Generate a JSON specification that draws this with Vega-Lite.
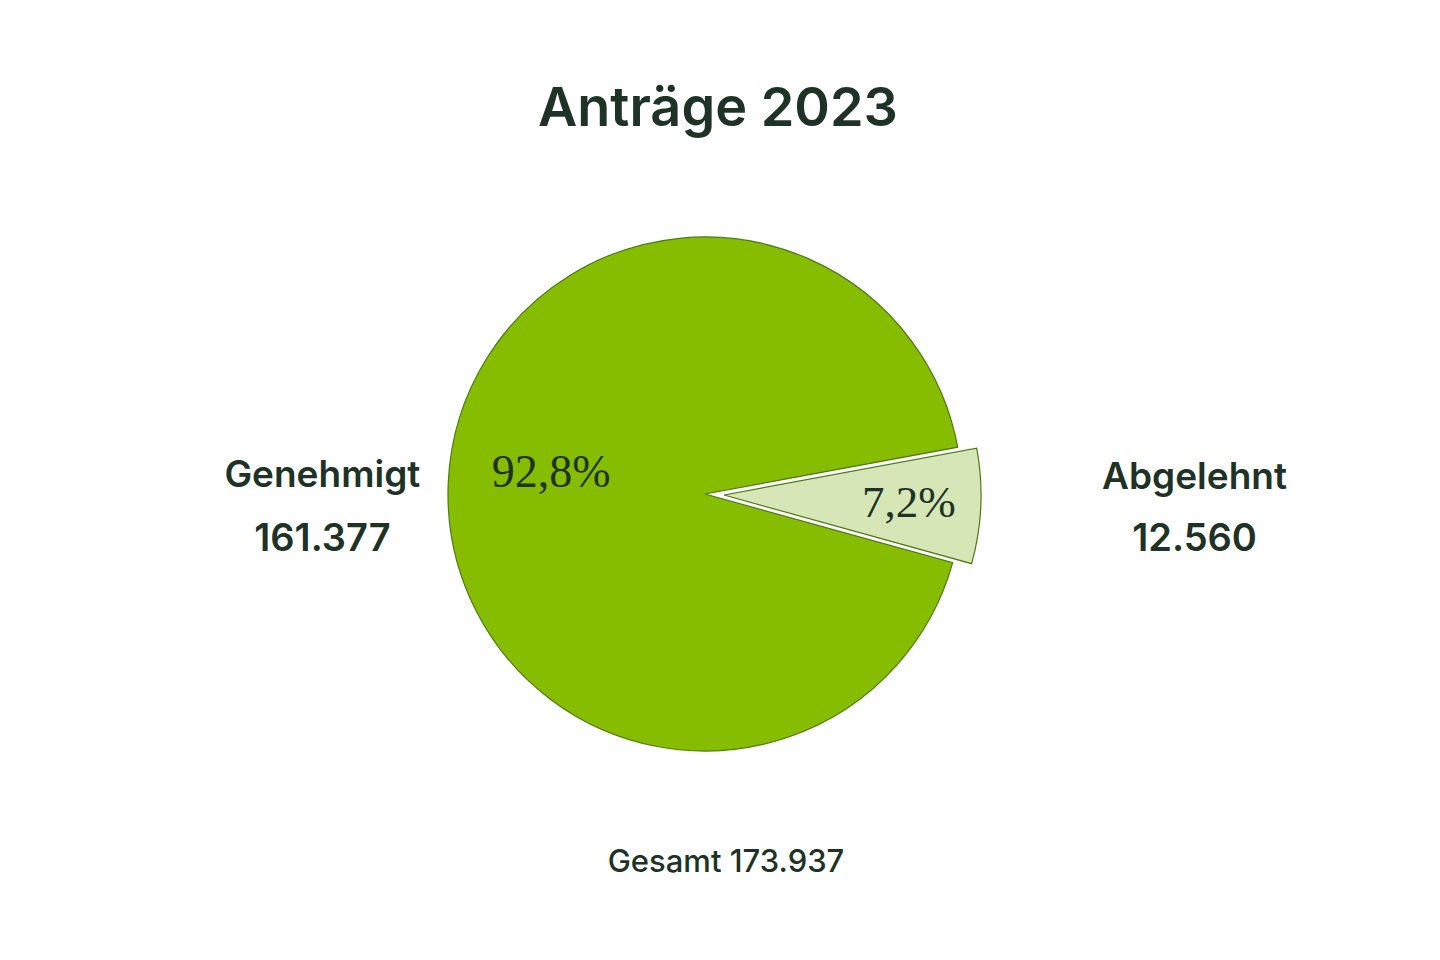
{
  "$schema": "https://vega.github.io/schema/vega-lite/v6.json",
  "width": 600,
  "height": 600,
  "autosize": "none",
  "padding": {"left": 405, "top": 194, "right": 435, "bottom": 166},
  "background": "white",
  "title": {
    "text": "Anträge 2023",
    "font": "Inter",
    "fontSize": 54,
    "fontWeight": 600,
    "color": "#1e3226",
    "anchor": "middle",
    "baseline": "alphabetic",
    "dx": 13,
    "offset": 14
  },
  "data": {
    "values": [
      {"category": "Genehmigt", "count": 161377, "share": 0.928},
      {"category": "Abgelehnt", "count": 12560, "share": 0.072}
    ]
  },
  "layer": [
    {
      "mark": {"type": "arc", "outerRadius": 257, "fill": "#86bd00", "stroke": "#4c7a12", "strokeWidth": 1.2},
      "encoding": {
        "theta": {"field": "count", "type": "quantitative", "stack": true, "scale": {"range": [1.3875, 7.6707]}},
        "order": {"field": "category", "type": "ordinal", "sort": "ascending"},
        "opacity": {"condition": {"test": "datum.category === 'Genehmigt'", "value": 1}, "value": 0}
      }
    },
    {
      "mark": {"type": "arc", "outerRadius": 257, "fill": "#d6e6b6", "stroke": "#4c7a12", "strokeWidth": 1.2, "xOffset": 19, "yOffset": 1},
      "encoding": {
        "theta": {"field": "count", "type": "quantitative", "stack": true},
        "order": {"field": "category", "type": "ordinal", "sort": "ascending"},
        "opacity": {"condition": {"test": "datum.category === 'Abgelehnt'", "value": 1}, "value": 0}
      }
    },
    {
      "mark": {"type": "text", "radius": 154, "font": "Liberation Serif", "fontSize": 46, "baseline": "alphabetic", "align": "center", "color": "#1e3226"},
      "encoding": {
        "theta": {"field": "count", "type": "quantitative", "stack": true},
        "order": {"field": "category", "type": "ordinal", "sort": "ascending"},
        "text": {"field": "share", "type": "quantitative", "format": ".1%"},
        "opacity": {"condition": {"test": "datum.category === 'Genehmigt'", "value": 1}, "value": 0}
      }
    },
    {
      "mark": {"type": "text", "radius": 185, "font": "Liberation Serif", "fontSize": 45, "baseline": "middle", "align": "center", "color": "#1e3226", "xOffset": 19, "yOffset": 1},
      "encoding": {
        "theta": {"field": "count", "type": "quantitative", "stack": true},
        "order": {"field": "category", "type": "ordinal", "sort": "ascending"},
        "text": {"field": "share", "type": "quantitative", "format": ".1%"},
        "opacity": {"condition": {"test": "datum.category === 'Abgelehnt'", "value": 1}, "value": 0}
      }
    },
    {
      "mark": {"type": "text", "radius": 383, "font": "Inter", "fontSize": 37, "fontWeight": 600, "baseline": "middle", "align": "center", "color": "#1e3226", "dy": -1},
      "encoding": {
        "theta": {"field": "count", "type": "quantitative", "stack": true},
        "order": {"field": "category", "type": "ordinal", "sort": "ascending"},
        "text": {"field": "category", "type": "nominal"},
        "opacity": {"condition": {"test": "datum.category === 'Genehmigt'", "value": 1}, "value": 0}
      }
    },
    {
      "mark": {"type": "text", "radius": 383, "font": "Inter", "fontSize": 38, "fontWeight": 600, "baseline": "middle", "align": "center", "color": "#1e3226", "dy": 63},
      "encoding": {
        "theta": {"field": "count", "type": "quantitative", "stack": true},
        "order": {"field": "category", "type": "ordinal", "sort": "ascending"},
        "text": {"field": "count", "type": "quantitative", "format": ","},
        "opacity": {"condition": {"test": "datum.category === 'Genehmigt'", "value": 1}, "value": 0}
      }
    },
    {
      "mark": {"type": "text", "radius": 490, "font": "Inter", "fontSize": 37, "fontWeight": 600, "baseline": "middle", "align": "center", "color": "#1e3226", "dy": -37},
      "encoding": {
        "theta": {"field": "count", "type": "quantitative", "stack": true},
        "order": {"field": "category", "type": "ordinal", "sort": "ascending"},
        "text": {"field": "category", "type": "nominal"},
        "opacity": {"condition": {"test": "datum.category === 'Abgelehnt'", "value": 1}, "value": 0}
      }
    },
    {
      "mark": {"type": "text", "radius": 490, "font": "Inter", "fontSize": 38, "fontWeight": 600, "baseline": "middle", "align": "center", "color": "#1e3226", "dy": 25},
      "encoding": {
        "theta": {"field": "count", "type": "quantitative", "stack": true},
        "order": {"field": "category", "type": "ordinal", "sort": "ascending"},
        "text": {"field": "count", "type": "quantitative", "format": ","},
        "opacity": {"condition": {"test": "datum.category === 'Abgelehnt'", "value": 1}, "value": 0}
      }
    },
    {
      "transform": [
        {"aggregate": [{"op": "sum", "field": "count", "as": "total"}]},
        {"calculate": "'Gesamt ' + replace(format(datum.total, ','), ',', '.')", "as": "label"}
      ],
      "mark": {"type": "text", "font": "Inter", "fontSize": 31, "fontWeight": 500, "baseline": "middle", "align": "center", "color": "#1e3226", "dx": 21, "dy": 369},
      "encoding": {
        "text": {"field": "label", "type": "nominal"}
      }
    }
  ],
  "config": {
    "view": {"stroke": null},
    "locale": {
      "number": {"decimal": ",", "thousands": ".", "grouping": [3], "currency": ["", " €"]}
    }
  }
}
